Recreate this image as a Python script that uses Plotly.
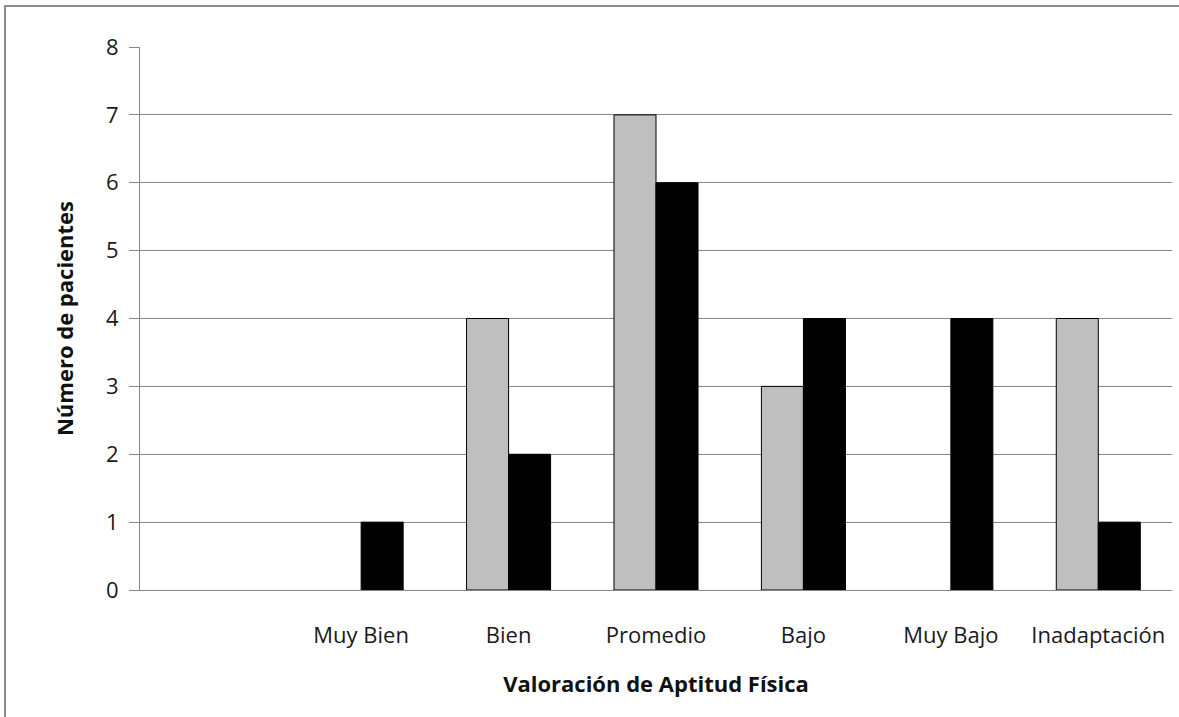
import plotly.graph_objects as go

categories = ["", "Muy Bien", "Bien", "Promedio", "Bajo", "Muy Bajo", "Inadaptación"]
serie_gris = [0, 0, 4, 7, 3, 0, 4]
serie_negra = [0, 1, 2, 6, 4, 4, 1]
y_ticks = [0, 1, 2, 3, 4, 5, 6, 7, 8]

xs = list(range(len(categories)))
FONT = "Open Sans"
GRID = "#868686"


def outline(vals):
    return [0 if v == 0 else 1 for v in vals]


fig = go.Figure()
fig.add_trace(go.Bar(x=xs, y=serie_gris,
                     marker=dict(color="#BFBFBF", line=dict(color="#000000", width=outline(serie_gris))),
                     showlegend=False))
fig.add_trace(go.Bar(x=xs, y=serie_negra,
                     marker=dict(color="#000000", line=dict(color="#000000", width=outline(serie_negra))),
                     showlegend=False))

L, R, T, B = 140, 7, 47, 127
W, H = 1179, 717
pw, ph = W - L - R, H - T - B

fig.update_layout(
    width=W, height=H,
    margin=dict(l=L, r=R, t=T, b=B, pad=0),
    paper_bgcolor="white", plot_bgcolor="white",
    barmode="group", bargap=0.43, bargroupgap=0,
    font=dict(family=FONT, color="#000000"),
    xaxis=dict(
        range=[-0.5, len(categories) - 0.5],
        tickmode="array", tickvals=xs, ticktext=categories,
        showgrid=False, zeroline=False,
        showline=True, linecolor=GRID, linewidth=1,
        ticks="", tickfont=dict(size=22, family=FONT, color="#1a1a1a"),
        ticklabelstandoff=26,
        title=dict(text="<b>Valoración de Aptitud Física</b>", font=dict(size=22, family=FONT, color="#111111"),
                   standoff=28),
    ),
    yaxis=dict(
        range=[0, 8], tickmode="array", tickvals=y_ticks,
        showgrid=True, gridcolor=GRID, gridwidth=1,
        zeroline=False,
        showline=True, linecolor=GRID, linewidth=1,
        ticks="outside", ticklen=10, tickcolor=GRID, tickwidth=1,
        tickfont=dict(size=22, family=FONT, color="#1a1a1a"),
        ticklabelstandoff=6,
        title=dict(text="<b>Número de pacientes</b>", font=dict(size=22, family=FONT, color="#111111"),
                   standoff=26),
    ),
    shapes=[dict(
        type="rect", xref="paper", yref="paper",
        x0=(5 - L) / pw, x1=(W + 30 - L) / pw,
        y0=(H - B - (H + 30)) / ph, y1=(H - B - 6) / ph,
        line=dict(color="#8c8c8c", width=2), fillcolor="rgba(0,0,0,0)", layer="below",
    )],
)

fig.write_html("out.html", config={"displayModeBar": False},
               post_script="document.body.style.margin='0';")
